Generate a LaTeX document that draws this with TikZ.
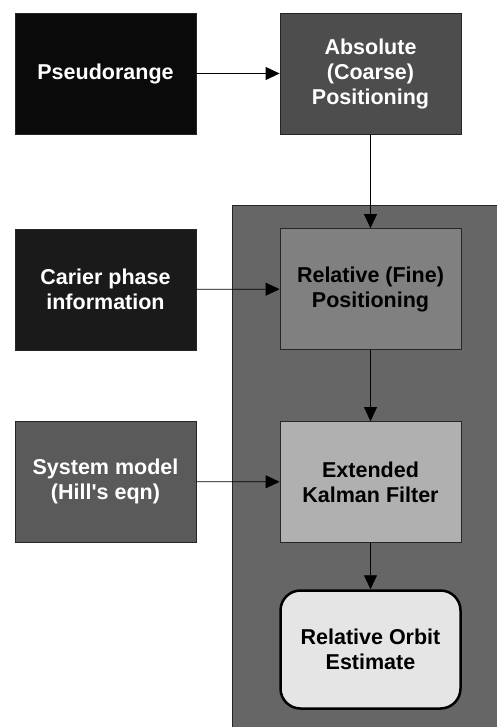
\documentclass[tikz,border=0pt]{standalone}
\usepackage{fontspec}
\setmainfont{Liberation Sans}[Ligatures=TeXOff]
\usetikzlibrary{arrows.meta}
\definecolor{inputdark}{HTML}{0A0A0A}
\definecolor{inputmid}{HTML}{1A1A1A}
\definecolor{inputgray}{HTML}{5A5A5A}
\definecolor{absgray}{HTML}{4D4D4D}
\definecolor{framegray}{HTML}{666666}
\definecolor{relgray}{HTML}{808080}
\definecolor{ekfgray}{HTML}{B0B0B0}
\definecolor{orbitgray}{HTML}{E5E5E5}
\tikzset{
	blockbox/.style={rectangle,draw=black!85,line width=0.8pt,inner sep=0pt,
		minimum width=181pt,minimum height=121pt,align=center,
		font=\bfseries\fontsize{21.5}{25}\selectfont},
	inbox/.style={blockbox,text=white},
	procbox/.style={blockbox,text=black},
	resultbox/.style={blockbox,text=black,fill=orbitgray,draw=black,
		line width=2.5pt,rounded corners=20pt,minimum width=180pt,minimum height=118pt},
	flow/.style={-{Triangle[length=14pt,width=13pt]},line width=0.8pt},
}
\begin{document}
\begin{tikzpicture}[x=1pt,y=-1pt]
\useasboundingbox (0,0) rectangle (497,727);
% frame round the relative part
\fill[framegray] (232,205) rectangle (510,740);
\draw[line width=0.8pt,black!85] (232,740) -- (232,205) -- (510,205);

\node (pr)  at (105.5,73.5) [inbox,fill=inputdark] {Pseudorange};
\node (abs) at (370.5,73.5) [inbox,fill=absgray] {Absolute\\(Coarse)\\Positioning};
\node (cp)  at (105.5,289.5) [inbox,fill=inputmid] {Carier phase\\information};
\node (rel) at (370.5,289) [procbox,fill=relgray] {Relative (Fine)\\Positioning};
\node (sm)  at (105.5,481.5) [inbox,fill=inputgray] {System model\\(Hill's eqn)};
\node (ekf) at (370.5,482) [procbox,fill=ekfgray] {Extended\\Kalman Filter};
\node (orb) at (370.5,649.5) [resultbox] {Relative Orbit\\Estimate};

\draw[flow] (pr) -- (abs);
\draw[flow] (cp) -- (rel);
\draw[flow] (sm) -- (ekf);
\draw[flow] (abs) -- (rel);
\draw[flow] (rel) -- (ekf);
\draw[flow] (ekf) -- (orb);
\end{tikzpicture}
\end{document}
